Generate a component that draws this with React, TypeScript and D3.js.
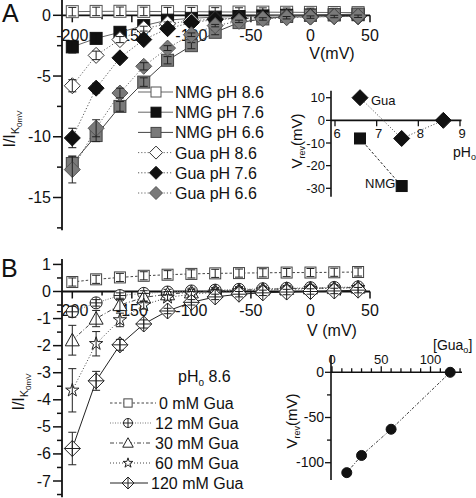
import React from 'react';
import * as d3 from 'd3';

// ---------- data ----------
const voltages = [-200, -180, -160, -140, -120, -100, -80, -60, -40, -20, 0, 20, 40];

// Panel A: I/I_K0mV
const nmg86 = [0.3, 0.32, 0.33, 0.32, 0.3, 0.3, 0.28, 0.27, 0.26, 0.25, 0.24, 0.23, 0.22];
const nmg86Err = [0.35, 0.35, 0.35, 0.35, 0.35, 0.35, 0.35, 0.35, 0.35, 0.35, 0.35, 0.35, 0.35];
const nmg76 = [-2.6, -1.9, -1.4, -0.85, -0.4, -0.25, -0.15, -0.1, -0.05, 0, 0.02, 0.04, 0.05];
const nmg76Err = [0.5, 0.4, 0.3, 0.2, 0.15, 0.1, 0.1, 0.1, 0.1, 0.1, 0.1, 0.1, 0.1];
const nmg66 = [-12.2, -9.9, -7.5, -5.5, -3.7, -2.5, -1.4, -0.6, -0.3, -0.1, 0, 0.05, 0.1];
const nmg66Err = [0.6, 0.5, 0.4, 0.35, 0.3, 0.25, 0.2, 0.15, 0.1, 0.1, 0.1, 0.1, 0.1];
const gua86 = [-5.8, -3.3, -2.0, -1.1, -0.7, -0.45, -0.3, -0.25, -0.2, -0.15, -0.12, -0.1, -0.1];
const gua86Err = [0.5, 0.35, 0.25, 0.2, 0.15, 0.1, 0.1, 0.1, 0.1, 0.1, 0.1, 0.1, 0.1];
const gua76 = [-10.1, -6.0, -3.5, -2.0, -1.1, -0.6, -0.35, -0.25, -0.2, -0.15, -0.12, -0.1, -0.1];
const gua76Err = [0.8, 0.4, 0.3, 0.2, 0.15, 0.1, 0.1, 0.1, 0.1, 0.1, 0.1, 0.1, 0.1];
const gua66 = [-12.7, -9.3, -6.4, -4.2, -2.7, -1.6, -0.85, -0.5, -0.3, -0.2, -0.15, -0.1, -0.08];
const gua66Err = [1.1, 0.7, 0.4, 0.3, 0.2, 0.15, 0.1, 0.1, 0.1, 0.1, 0.1, 0.1, 0.1];

// Inset A: Vrev vs pHo
const insetGuaPH = [6.6, 7.6, 8.6];
const insetGuaVrev = [10, -8, 0];
const insetNmgPH = [6.6, 7.6];
const insetNmgVrev = [-8, -29];

// Panel B
const gua0 = [0.35, 0.45, 0.52, 0.58, 0.62, 0.65, 0.67, 0.68, 0.69, 0.7, 0.7, 0.71, 0.72];
const gua0Err = [0.15, 0.15, 0.15, 0.15, 0.15, 0.15, 0.15, 0.15, 0.15, 0.15, 0.15, 0.15, 0.15];
const gua12 = [-0.75, -0.42, -0.15, -0.07, -0.02, 0.02, 0.05, 0.08, 0.1, 0.12, 0.14, 0.15, 0.17];
const gua12Err = [0.2, 0.12, 0.1, 0.1, 0.1, 0.1, 0.1, 0.1, 0.1, 0.1, 0.1, 0.1, 0.1];
const gua30 = [-1.8, -1.0, -0.5, -0.22, -0.1, -0.03, 0.02, 0.05, 0.08, 0.1, 0.12, 0.13, 0.15];
const gua30Err = [0.55, 0.3, 0.2, 0.15, 0.1, 0.1, 0.1, 0.1, 0.1, 0.1, 0.1, 0.1, 0.1];
const gua60 = [-3.65, -1.93, -1.05, -0.5, -0.22, -0.1, -0.03, 0.02, 0.05, 0.08, 0.1, 0.12, 0.14];
const gua60Err = [0.8, 0.45, 0.25, 0.15, 0.1, 0.1, 0.1, 0.1, 0.1, 0.1, 0.1, 0.1, 0.1];
const gua120 = [-5.8, -3.3, -1.97, -1.2, -0.72, -0.4, -0.2, -0.1, -0.05, -0.02, 0, 0.02, 0.05];
const gua120Err = [0.6, 0.35, 0.2, 0.15, 0.1, 0.1, 0.1, 0.1, 0.1, 0.1, 0.1, 0.1, 0.1];

// Inset B: Vrev vs [Gua]o
const insetGuaConc = [15, 30, 60, 120];
const insetGuaConcVrev = [-111, -92, -63, 0];

// tick values
const xTicksMajor = [-200, -150, -100, -50, 0, 50];
const xTicksMinor = [-175, -125, -75, -25, 25];
const yTicksA = [0, -5, -10, -15];
const yTicksAMinor = [-2.5, -7.5, -12.5, -17.5];
const yTicksB = [1, 0, -1, -2, -3, -4, -5, -6, -7];
const yTicksBMinor = [0.5, -0.5, -1.5, -2.5, -3.5, -4.5, -5.5, -6.5, -7.5];
const insetAxTicks = [6, 7, 8, 9];
const insetAyTicks = [10, 0, -10, -20, -30];
const insetBxTicks = [0, 50, 100];
const insetBxMinor = [10, 20, 30, 40, 60, 70, 80, 90, 110, 120, 130];
const insetByTicks = [0, -50, -100];
const insetByMinor = [-25, -75];

// ---------- scales ----------
const xA = d3.scaleLinear().domain([-200, 50]).range([72.3, 370]);
const yA = d3.scaleLinear().domain([0, -15]).range([15.3, 197.5]);
const xB = xA.copy();
const yB = d3.scaleLinear().domain([0, -7]).range([291.5, 481]);
const xIA = d3.scaleLinear().domain([6, 9]).range([335, 460]);
const yIA = d3.scaleLinear().domain([10, -30]).range([97.7, 188.3]);
const xIB = d3.scaleLinear().domain([0, 100]).range([332, 430.5]);
const yIB = d3.scaleLinear().domain([0, -100]).range([372.3, 462.7]);

const FONT = '"Liberation Sans", Arial, sans-serif';

const starPath = d3.symbol().type(d3.symbolStar).size(55)() as string;
const starPathSmall = d3.symbol().type(d3.symbolStar).size(30)() as string;

type Kind = 'square' | 'diamond' | 'triangle' | 'star' | 'circlePlus' | 'diamondPlus' | 'dot';

function Marker({ kind, x, y, fill = 'white', stroke = 'black', s = 6 }:
  { kind: Kind; x: number; y: number; fill?: string; stroke?: string; s?: number }) {
  const sw = 1;
  switch (kind) {
    case 'square':
      return <rect x={x - s} y={y - s} width={2 * s} height={2 * s} fill={fill} stroke={stroke} strokeWidth={sw} />;
    case 'diamond':
      return <path d={`M${x},${y - s}L${x + s},${y}L${x},${y + s}L${x - s},${y}Z`} fill={fill} stroke={stroke} strokeWidth={sw} />;
    case 'triangle':
      return <path d={`M${x},${y - s}L${x + s},${y + s * 0.8}L${x - s},${y + s * 0.8}Z`} fill={fill} stroke={stroke} strokeWidth={sw} />;
    case 'star':
      return <path transform={`translate(${x},${y})`} d={s < 5 ? starPathSmall : starPath} fill={fill} stroke={stroke} strokeWidth={sw} />;
    case 'circlePlus':
      return (
        <g stroke={stroke} strokeWidth={sw}>
          <circle cx={x} cy={y} r={s} fill={fill} />
          <line x1={x - s} x2={x + s} y1={y} y2={y} />
          <line x1={x} x2={x} y1={y - s} y2={y + s} />
        </g>
      );
    case 'diamondPlus':
      return (
        <g stroke={stroke} strokeWidth={sw}>
          <path d={`M${x},${y - s}L${x + s},${y}L${x},${y + s}L${x - s},${y}Z`} fill={fill} />
          <line x1={x - s} x2={x + s} y1={y} y2={y} />
          <line x1={x} x2={x} y1={y - s} y2={y + s} />
        </g>
      );
    case 'dot':
      return <circle cx={x} cy={y} r={s} fill={fill} stroke={stroke} />;
  }
  return null;
}

function ErrBar({ x, y1, y2, color = '#111', cap = 4 }: { x: number; y1: number; y2: number; color?: string; cap?: number }) {
  return (
    <g stroke={color} strokeWidth={1}>
      <line x1={x} x2={x} y1={y1} y2={y2} />
      <line x1={x - cap} x2={x + cap} y1={y1} y2={y1} />
      <line x1={x - cap} x2={x + cap} y1={y2} y2={y2} />
    </g>
  );
}

interface Series {
  label: string;
  values: number[];
  err: number[];
  kind: Kind;
  fill: string;
  stroke: string;
  dash?: string;
  lineColor: string;
  size: number;
}

const seriesA: Series[] = [
  { label: 'NMG pH 8.6', values: nmg86, err: nmg86Err, kind: 'square', fill: 'white', stroke: '#555', lineColor: '#666', size: 6 },
  { label: 'NMG pH 7.6', values: nmg76, err: nmg76Err, kind: 'square', fill: '#111', stroke: '#111', lineColor: '#666', size: 6 },
  { label: 'NMG pH 6.6', values: nmg66, err: nmg66Err, kind: 'square', fill: '#7a7a7a', stroke: '#444', lineColor: '#444', size: 6 },
  { label: 'Gua pH 8.6', values: gua86, err: gua86Err, kind: 'diamond', fill: 'white', stroke: '#333', dash: '1.2,2', lineColor: '#666', size: 8 },
  { label: 'Gua pH 7.6', values: gua76, err: gua76Err, kind: 'diamond', fill: '#111', stroke: '#111', dash: '1.2,2', lineColor: '#555', size: 8 },
  { label: 'Gua pH 6.6', values: gua66, err: gua66Err, kind: 'diamond', fill: '#7a7a7a', stroke: '#555', dash: '1.2,2', lineColor: '#666', size: 8 },
];

const seriesB: Series[] = [
  { label: '0 mM Gua', values: gua0, err: gua0Err, kind: 'square', fill: 'white', stroke: '#444', dash: '2.5,2', lineColor: '#444', size: 5.5 },
  { label: '12 mM Gua', values: gua12, err: gua12Err, kind: 'circlePlus', fill: 'white', stroke: '#222', dash: '1,1.5', lineColor: '#777', size: 6 },
  { label: '30 mM Gua', values: gua30, err: gua30Err, kind: 'triangle', fill: 'white', stroke: '#222', dash: '4,2,1,2', lineColor: '#444', size: 7 },
  { label: '60 mM Gua', values: gua60, err: gua60Err, kind: 'star', fill: 'white', stroke: '#222', dash: '1,2', lineColor: '#444', size: 6 },
  { label: '120 mM Gua', values: gua120, err: gua120Err, kind: 'diamondPlus', fill: 'white', stroke: '#222', lineColor: '#222', size: 8 },
];

function MainAxes({ x, y, yTicks, yMinor, yTop, yBottom, xLabel, xLabelY, tickLabelY }:
  { x: d3.ScaleLinear<number, number>; y: d3.ScaleLinear<number, number>; yTicks: number[]; yMinor: number[]; yTop: number; yBottom: number; xLabel: string; xLabelY: number; tickLabelY: number }) {
  const x0 = 62;
  const y0 = y(0);
  return (
    <g fontFamily={FONT} fontSize={16} fill="#111">
      <line x1={x0} x2={x0} y1={y(yTop)} y2={y(yBottom)} stroke="#111" strokeWidth={1.8} />
      {yTicks.map(t => (
        <g key={'yt' + t}>
          <line x1={x0 - 9} x2={x0} y1={y(t)} y2={y(t)} stroke="#111" strokeWidth={1.5} />
          <text x={51} y={y(t) + 5.5} textAnchor="end">{String(t)}</text>
        </g>
      ))}
      {yMinor.map(t => (
        <line key={'ym' + t} x1={x0 - 5} x2={x0} y1={y(t)} y2={y(t)} stroke="#111" strokeWidth={1.5} />
      ))}
      <line x1={x0} x2={x(50)} y1={y0} y2={y0} stroke="#111" strokeWidth={1.8} />
      {xTicksMajor.map(t => (
        <g key={'xt' + t}>
          <line x1={x(t)} x2={x(t)} y1={y0} y2={y0 + 7} stroke="#111" strokeWidth={1.5} />
          <text x={x(t)} y={tickLabelY} textAnchor="middle">{String(t)}</text>
        </g>
      ))}
      {xTicksMinor.map(t => (
        <line key={'xm' + t} x1={x(t)} x2={x(t)} y1={y0} y2={y0 + 4} stroke="#111" strokeWidth={1.5} />
      ))}
      <text x={332} y={xLabelY} textAnchor="middle">{xLabel}</text>
    </g>
  );
}

function SeriesPlot({ s, x, y }: { s: Series; x: d3.ScaleLinear<number, number>; y: d3.ScaleLinear<number, number> }) {
  const line = d3.line<number>().x((_, i) => x(voltages[i])).y(v => y(v));
  return (
    <path d={line(s.values) || ''} fill="none" stroke={s.lineColor} strokeWidth={1} strokeDasharray={s.dash} />
  );
}

function SeriesMarks({ s, x, y }: { s: Series; x: d3.ScaleLinear<number, number>; y: d3.ScaleLinear<number, number> }) {
  return (
    <g>
      {s.values.map((v, i) => (
        <g key={i}>
          <Marker kind={s.kind} x={x(voltages[i])} y={y(v)} fill={s.fill} stroke={s.stroke} s={s.size} />
          <ErrBar x={x(voltages[i])} y1={y(v + s.err[i])} y2={y(v - s.err[i])} color={s.fill === '#111' ? '#111' : '#222'} />
        </g>
      ))}
    </g>
  );
}

export default function App() {
  const insetLineA = d3.line<number>().x((_, i) => xIA(insetGuaPH[i])).y(v => yIA(v));
  const insetLineNmg = d3.line<number>().x((_, i) => xIA(insetNmgPH[i])).y(v => yIA(v));
  const insetLineB = d3.line<number>().x((_, i) => xIB(insetGuaConc[i])).y(v => yIB(v));

  return (
    <svg width={476} height={498} style={{ position: 'absolute', left: 0, top: 0, background: 'white' }} fontFamily={FONT}>
      <rect x={0} y={0} width={476} height={498} fill="white" />
      <text x={2} y={22} fontSize={25} fill="#111">A</text>
      <text x={1} y={277} fontSize={25} fill="#111">B</text>

      {/* ---------- Panel A main ---------- */}
      <MainAxes x={xA} y={yA} yTicks={yTicksA} yMinor={yTicksAMinor} yTop={1.25} yBottom={-17.7}
        xLabel="V(mV)" xLabelY={59} tickLabelY={41} />
      <text transform="translate(15,129) rotate(-90)" textAnchor="middle" fontSize={16} fill="#111">
        I/I<tspan fontSize={11} dy={4}>K</tspan><tspan fontSize={8} dy={3}>0mV</tspan>
      </text>
      {seriesA.map(s => <SeriesPlot key={s.label} s={s} x={xA} y={yA} />)}
      {seriesA.map(s => <SeriesMarks key={s.label} s={s} x={xA} y={yA} />)}

      {seriesA.map((s, i) => {
        const ly = 92 + i * 20.2;
        return (
          <g key={'la' + i}>
            <line x1={138} x2={173} y1={ly} y2={ly} stroke={s.lineColor} strokeWidth={1} strokeDasharray={s.dash} />
            <Marker kind={s.kind} x={156} y={ly} fill={s.fill} stroke={s.stroke} s={s.kind === 'square' ? 5 : 6.5} />
            <text x={175} y={ly + 6} fontSize={16} fill="#111">{s.label}</text>
          </g>
        );
      })}

      {/* Inset A */}
      <g fontSize={13} fill="#111">
        <line x1={331} x2={331} y1={90.7} y2={196.7} stroke="#111" strokeWidth={1.6} />
        <line x1={331} x2={461.5} y1={yIA(0)} y2={yIA(0)} stroke="#111" strokeWidth={1.6} />
        {insetAyTicks.map(t => (
          <g key={'iay' + t}>
            <line x1={326} x2={331} y1={yIA(t)} y2={yIA(t)} stroke="#111" strokeWidth={1.3} />
            <text x={325} y={yIA(t) + 4.5} textAnchor="end">{String(t)}</text>
          </g>
        ))}
        {insetAxTicks.map(t => (
          <g key={'iax' + t}>
            <line x1={xIA(t)} x2={xIA(t)} y1={yIA(0)} y2={yIA(0) + 6} stroke="#111" strokeWidth={1.3} />
            <text x={xIA(t) + 2} y={138} textAnchor="middle">{String(t)}</text>
          </g>
        ))}
        <text x={453} y={157} fontSize={14}>pH<tspan fontSize={9} dy={3}>o</tspan></text>
        <text transform="translate(302,141) rotate(-90)" textAnchor="middle" fontSize={15}>
          V<tspan fontSize={9} dy={3}>rev</tspan><tspan dy={-3}>(mV)</tspan>
        </text>
        <path d={insetLineA(insetGuaVrev) || ''} fill="none" stroke="#444" strokeWidth={1} strokeDasharray="1,2" />
        <path d={insetLineNmg(insetNmgVrev) || ''} fill="none" stroke="#222" strokeWidth={1} strokeDasharray="2.5,2" />
        {insetGuaVrev.map((v, i) => (
          <Marker key={'ig' + i} kind="diamond" x={xIA(insetGuaPH[i])} y={yIA(v)} fill="#111" stroke="#111" s={8} />
        ))}
        {insetNmgVrev.map((v, i) => (
          <Marker key={'in' + i} kind="square" x={xIA(insetNmgPH[i])} y={yIA(v)} fill="#111" stroke="#111" s={5.5} />
        ))}
        <text x={371} y={105} fontSize={13}>Gua</text>
        <text x={365} y={188} fontSize={13}>NMG</text>
      </g>

      {/* ---------- Panel B main ---------- */}
      <MainAxes x={xB} y={yB} yTicks={yTicksB} yMinor={yTicksBMinor} yTop={1.2} yBottom={-7.6}
        xLabel="V (mV)" xLabelY={336} tickLabelY={316} />
      <text transform="translate(24,392) rotate(-90)" textAnchor="middle" fontSize={16} fill="#111">
        I/I<tspan fontSize={11} dy={4}>K</tspan><tspan fontSize={8} dy={3}>0mV</tspan>
      </text>
      {seriesB.map(s => <SeriesPlot key={s.label} s={s} x={xB} y={yB} />)}
      {seriesB.map(s => <SeriesMarks key={s.label} s={s} x={xB} y={yB} />)}

      <text x={178} y={382} fontSize={16} fill="#111">pH<tspan fontSize={10} dy={4}>o</tspan><tspan dy={-4}> 8.6</tspan></text>
      {seriesB.map((s, i) => {
        const ly = 403 + i * 20;
        const digits = s.label.split(' ')[0].length;
        const tx = 163 - 4 * digits;
        return (
          <g key={'lb' + i}>
            <line x1={110} x2={tx - 3} y1={ly} y2={ly} stroke={s.lineColor} strokeWidth={1} strokeDasharray={s.dash} />
            <Marker kind={s.kind} x={128} y={ly} fill={s.fill} stroke={s.stroke} s={s.kind === 'star' ? 4 : s.size * 0.75} />
            <text x={tx} y={ly + 6} fontSize={16} fill="#111">{s.label}</text>
          </g>
        );
      })}

      {/* Inset B */}
      <g fontSize={13} fill="#111">
        <line x1={331} x2={331} y1={355} y2={480} stroke="#111" strokeWidth={1.6} />
        <line x1={331} x2={462} y1={yIB(0)} y2={yIB(0)} stroke="#111" strokeWidth={1.6} />
        {insetBxTicks.map(t => (
          <g key={'ibx' + t}>
            <line x1={xIB(t)} x2={xIB(t)} y1={yIB(0)} y2={yIB(0) - 6} stroke="#111" strokeWidth={1.3} />
            <text x={xIB(t)} y={364} textAnchor="middle">{String(t)}</text>
          </g>
        ))}
        {insetBxMinor.map(t => (
          <line key={'ibm' + t} x1={xIB(t)} x2={xIB(t)} y1={yIB(0)} y2={yIB(0) - 4} stroke="#111" strokeWidth={1.3} />
        ))}
        {insetByTicks.map(t => (
          <g key={'iby' + t}>
            <line x1={325} x2={331} y1={yIB(t)} y2={yIB(t)} stroke="#111" strokeWidth={1.3} />
            <text x={324} y={yIB(t) + 4.5} textAnchor="end" fontSize={14}>{String(t)}</text>
          </g>
        ))}
        {insetByMinor.map(t => (
          <line key={'ibym' + t} x1={327} x2={331} y1={yIB(t)} y2={yIB(t)} stroke="#111" strokeWidth={1.3} />
        ))}
        <text x={433} y={350} fontSize={14}>[Gua<tspan fontSize={9} dy={3}>o</tspan><tspan dy={-3}>]</tspan></text>
        <text transform="translate(297,421) rotate(-90)" textAnchor="middle" fontSize={15}>
          V<tspan fontSize={9} dy={3}>rev</tspan><tspan dy={-3}>(mV)</tspan>
        </text>
        <path d={insetLineB(insetGuaConcVrev) || ''} fill="none" stroke="#444" strokeWidth={1} strokeDasharray="3,1.5,1,1.5" />
        {insetGuaConcVrev.map((v, i) => (
          <Marker key={'ib' + i} kind="dot" x={xIB(insetGuaConc[i])} y={yIB(v)} fill="#111" stroke="#111" s={5} />
        ))}
      </g>
    </svg>
  );
}
